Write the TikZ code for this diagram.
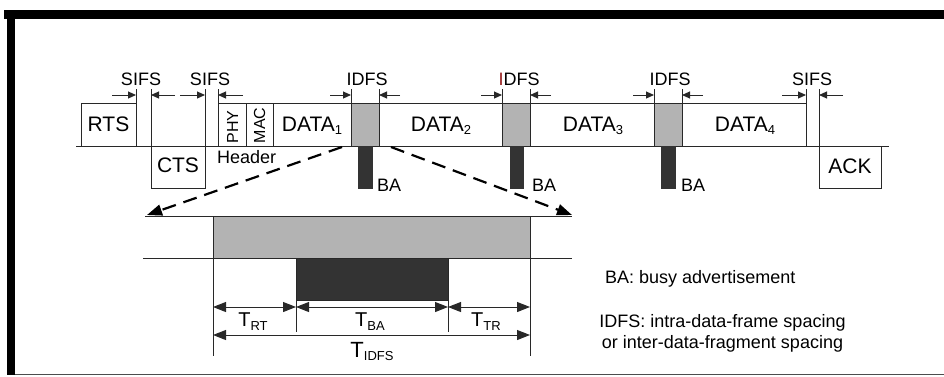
\documentclass[tikz,border=0pt]{standalone}
\usepackage{fontspec}
\setmainfont{Liberation Sans}
\usetikzlibrary{arrows.meta}
\definecolor{gfill}{RGB}{179,179,179}
\definecolor{dfill}{RGB}{51,51,51}
\definecolor{linec}{RGB}{40,40,40}
\definecolor{idred}{RGB}{150,30,30}
\newcommand\myfs[1]{\fontsize{#1}{#1}\selectfont}
\newcommand\lsub[2]{#1{\myfs{13}\raisebox{-3.5pt}{#2}}}
\begin{document}
\begin{tikzpicture}[x=1pt,y=-1pt,
  box/.style={draw=linec,line width=1pt,inner sep=0pt,outer sep=0pt,anchor=south west},
  dnbox/.style={draw=linec,line width=1pt,inner sep=0pt,outer sep=0pt,anchor=north west},
  gbox/.style={box,fill=gfill},
  babar/.style={dnbox,fill=dfill,draw=dfill},
  mainlbl/.style={anchor=base,inner sep=0pt,font=\myfs{21}},
  smlbl/.style={anchor=base,inner sep=0pt,font=\myfs{18}},
  rotlbl/.style={inner sep=0pt,font=\myfs{16},rotate=90},
  ln/.style={draw=linec,line width=1pt},
  sarr/.style={ln,-{Triangle[length=8pt,width=7pt]}},
  darr/.style={ln,{Triangle[length=13pt,width=10pt]}-{Triangle[length=13pt,width=10pt]}},
  dasharr/.style={draw=black,line width=2.2pt,dash pattern=on 14pt off 8pt,-{Triangle[length=15pt,width=11pt]}}
]
\useasboundingbox (0,0) rectangle (944,376);
% frame
\fill[black] (4,10) rectangle (944,19);
\fill[black] (7,10) rectangle (15,375);
\draw[gray!60!black,line width=1.5pt] (15,374.5) -- (944,374.5);

% baseline
\coordinate (bl0) at (76,146);
\coordinate (bl1) at (889,146);
\draw[ln] (bl0) -- (bl1);

% top row frames
\node[box,minimum width=55pt,minimum height=43pt] (rts) at (81,146) {};
\node[dnbox,minimum width=54pt,minimum height=42pt] (cts) at (151,146) {};
\node[box,minimum width=28pt,minimum height=43pt] (phy) at (218,146) {};
\node[box,minimum width=27pt,minimum height=43pt] (mac) at (246,146) {};
\node[box,minimum width=78pt,minimum height=43pt] (d1) at (273,146) {};
\node[gbox,minimum width=28pt,minimum height=43pt] (g1) at (351,146) {};
\node[box,minimum width=123pt,minimum height=43pt] (d2) at (379,146) {};
\node[gbox,minimum width=28pt,minimum height=43pt] (g2) at (502,146) {};
\node[box,minimum width=124pt,minimum height=43pt] (d3) at (530,146) {};
\node[gbox,minimum width=28pt,minimum height=43pt] (g3) at (654,146) {};
\node[box,minimum width=124pt,minimum height=43pt] (d4) at (682,146) {};
\node[dnbox,minimum width=62pt,minimum height=42pt] (ack) at (819,146) {};

% BA bars
\node[babar,minimum width=14pt,minimum height=42pt] (ba1) at (358,146) {};
\node[babar,minimum width=13pt,minimum height=42pt] (ba2) at (510,146) {};
\node[babar,minimum width=14pt,minimum height=42pt] (ba3) at (661,146) {};

% labels in frames
\node[mainlbl] (lrts) at (rts.center |- 0,131) {RTS};
\node[mainlbl] (lcts) at (cts.center |- 0,172) {CTS};
\node[mainlbl] (lack) at (ack.center |- 0,173) {ACK};
\node[mainlbl] (ld1) at (312,131) {\lsub{DATA}{1}};
\node[mainlbl] (ld2) at (441,131) {\lsub{DATA}{2}};
\node[mainlbl] (ld3) at (593,131) {\lsub{DATA}{3}};
\node[mainlbl] (ld4) at (745,131) {\lsub{DATA}{4}};
\node[rotlbl] (lphy) at (232.5,127) {PHY};
\node[rotlbl] (lmac) at (259.5,125.5) {MAC};
\node[smlbl,anchor=base west] (lhdr) at (217,163) {Header};
\node[smlbl,anchor=base west] (lba1) at (377,191) {BA};
\node[smlbl,anchor=base west] (lba2) at (532,191) {BA};
\node[smlbl,anchor=base west] (lba3) at (681,191) {BA};

% extension lines up to y=89
\foreach \p in {rts.north east, cts.north west, cts.north east, phy.north west,
  g1.north west, g1.north east, g2.north west, g2.north east,
  g3.north west, g3.north east, d4.north east, ack.north west}{
  \draw[ln] (\p) -- (\p |- 0,89);
}
\draw[ln] (rts.north east) -- (rts.south east);

% spacing arrows
\draw[sarr] (112,95) -- (rts.east |- 0,95);
\draw[sarr] (175,95) -- (cts.west |- 0,95);
\draw[sarr] (180,95) -- (cts.east |- 0,95);
\draw[sarr] (243,95) -- (phy.west |- 0,95);
\draw[sarr] (330,95) -- (g1.west |- 0,95);
\draw[sarr] (400,95) -- (g1.east |- 0,95);
\draw[sarr] (481,95) -- (g2.west |- 0,95);
\draw[sarr] (551,95) -- (g2.east |- 0,95);
\draw[sarr] (633,95) -- (g3.west |- 0,95);
\draw[sarr] (703,95) -- (g3.east |- 0,95);
\draw[sarr] (782,95) -- (d4.east |- 0,95);
\draw[sarr] (843,95) -- (ack.west |- 0,95);

% spacing labels
\node[smlbl] (s1) at (141,85) {SIFS};
\node[smlbl] (s2) at (210,85) {SIFS};
\node[smlbl] (i1) at (367,85) {IDFS};
\node[smlbl] (i2) at (519,85) {\textcolor{idred}{I}DFS};
\node[smlbl] (i3) at (670,85) {IDFS};
\node[smlbl] (s3) at (812,85) {SIFS};

% zoomed detail
\node[box,fill=gfill,minimum width=317pt,minimum height=42pt] (bg) at (213,258) {};
\node[dnbox,fill=dfill,minimum width=152pt,minimum height=42pt] (bb) at (296,258) {};
\coordinate (tl0) at (145,216);
\coordinate (tl1) at (572,216);
\coordinate (ll0) at (143,258);
\coordinate (ll1) at (572,258);
\draw[ln] (tl0) -- (tl1);
\draw[ln] (ll0) -- (ll1);

% dashed zoom arrows
\coordinate (dz0) at (342,147);
\coordinate (dz1) at (391,147);
\draw[dasharr] (dz0) -- (147,215);
\draw[dasharr] (dz1) -- (572,215);

% extension lines
\draw[ln] (bg.south west) -- (bg.south west |- 0,356);
\draw[ln] (bg.south east) -- (bg.south east |- 0,356);
\draw[ln] (bb.south west) -- (bb.south west |- 0,332);
\draw[ln] (bb.south east) -- (bb.south east |- 0,332);

% dimension arrows
\draw[darr] (bg.west |- 0,307) -- (bb.west |- 0,307);
\draw[darr] (bb.west |- 0,307) -- (bb.east |- 0,307);
\draw[darr] (bb.east |- 0,307) -- (bg.east |- 0,307);
\draw[darr] (bg.west |- 0,335) -- (bg.east |- 0,335);

\node[anchor=base,inner sep=0pt,font=\myfs{20}] (trt) at (253,326.5) {\lsub{T}{RT}};
\node[anchor=base,inner sep=0pt,font=\myfs{20}] (tba) at (370,326.5) {\lsub{T}{BA}};
\node[anchor=base,inner sep=0pt,font=\myfs{20}] (ttr) at (486,326.5) {\lsub{T}{TR}};
\node[anchor=base,inner sep=0pt,font=\myfs{22}] (tidfs) at (372,357) {\lsub{T}{IDFS}};

% legend
\node[smlbl,anchor=base west] (leg1) at (605,283) {BA: busy advertisement};
\node[smlbl,anchor=base,align=center] (leg2) at (722.5,327) {IDFS: intra-data-frame spacing};
\node[smlbl,anchor=base,align=center] (leg3) at (722.5,348) {or inter-data-fragment spacing};
\end{tikzpicture}
\end{document}
